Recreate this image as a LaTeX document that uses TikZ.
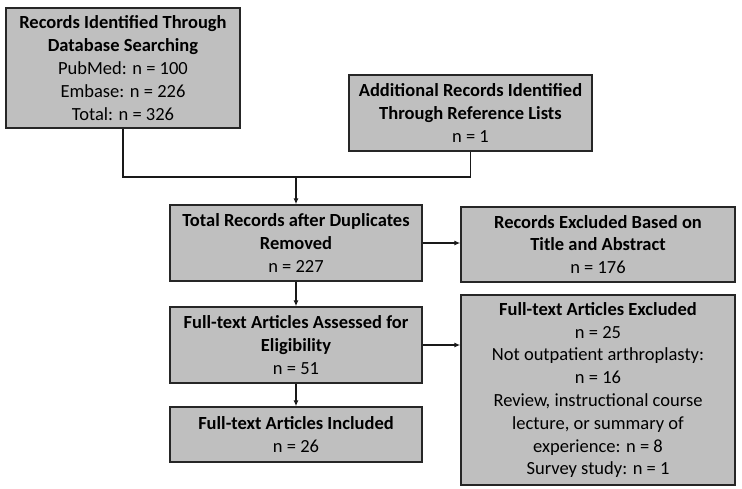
\documentclass[tikz,border=0pt]{standalone}
\usepackage{fontspec}
\setmainfont{Carlito}
\usepackage{tikz}
\usetikzlibrary{positioning,arrows.meta}

\tikzset{
  flowbox/.style={draw=black!85, fill=black!25, line width=1.4pt, align=center,
    inner sep=2pt, font=\fontsize{18.5}{22.8}\selectfont},
  flowline/.style={line width=1.3pt, black!90},
  flowarr/.style={flowline, -{Latex[length=6pt,width=5pt]}}
}

\begin{document}
\begin{tikzpicture}[x=1pt,y=-1pt]
\useasboundingbox (0,0) rectangle (742,488);
%Nodes
\node[flowbox, minimum width=234pt, minimum height=120pt] (db)   at (123,68)
    {\textbf{Records Identified Through}\\\textbf{Database Searching}\\PubMed: n = 100\\Embase: n = 226\\Total: n = 326};
\node[flowbox, minimum width=243pt, minimum height=76pt]  (refl) at (470.5,113)
    {\textbf{Additional Records Identified}\\\textbf{Through Reference Lists}\\n = 1};
\node[flowbox, minimum width=252pt, minimum height=76pt]  (dup)  at (296,243)
    {\textbf{Total Records after Duplicates}\\\textbf{Removed}\\n = 227};
\node[flowbox, minimum width=252pt, minimum height=76pt]  (elig) at (296,345)
    {\textbf{Full-text Articles Assessed for}\\\textbf{Eligibility}\\n = 51};
\node[flowbox, minimum width=252pt, minimum height=55pt]  (incl) at (296,434.5)
    {\textbf{Full-text Articles Included}\\n = 26};
\node[flowbox, minimum width=274pt, minimum height=75pt]  (excl) at (598,244.5)
    {\textbf{Records Excluded Based on}\\\textbf{Title and Abstract}\\n = 176};
\node[flowbox, minimum width=274pt, minimum height=190pt] (ftex) at (598,390)
    {\textbf{Full-text Articles Excluded}\\n = 25\\Not outpatient arthroplasty:\\n = 16\\Review, instructional course\\lecture, or summary of\\experience: n = 8\\Survey study: n = 1};
\coordinate (join) at (296,177);

%Lines
\draw[flowline] (db.south) |- (join) -| (refl.south);
\draw[flowarr]  (join) -- (dup.north);
\draw[flowarr]  (dup.south) -- (elig.north);
\draw[flowarr]  (elig.south) -- (incl.north);
\draw[flowarr]  (dup.east) -- (dup.east -| excl.west);
\draw[flowarr]  (elig.east) -- (elig.east -| ftex.west);
\end{tikzpicture}
\end{document}
